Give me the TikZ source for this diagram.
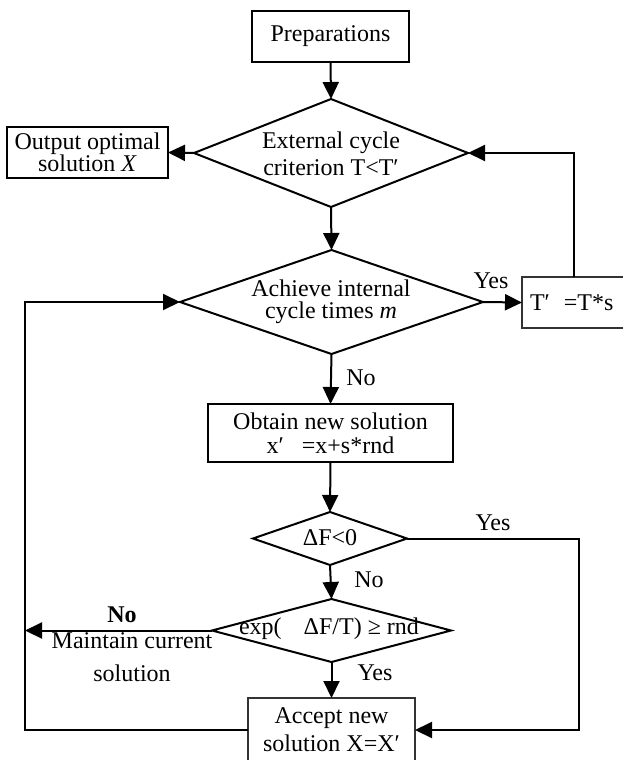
\documentclass[tikz,border=0pt]{standalone}
\usepackage{fontspec}
\setmainfont{Liberation Serif}
\usetikzlibrary{shapes.geometric,arrows.meta}
\begin{document}
\begin{tikzpicture}[x=1pt,y=-1pt,
  font=\fontsize{24}{22}\selectfont,
  line width=2pt,
  box/.style={draw, rectangle, inner sep=0pt, outer sep=0pt, align=center},
  thinbox/.style={draw=black!80, line width=1.3pt, rectangle, inner sep=0pt, outer sep=0pt},
  dia/.style={draw, diamond, inner sep=0pt, outer sep=0pt},
  arr/.style={-{Triangle[length=17pt,width=16pt]}},
  lbl/.style={inner sep=0pt, align=center}]
\path[use as bounding box, clip] (0,0) rectangle (623,760);
\fill[white] (0,0) rectangle (623,760);

\node[box, line width=2.2pt, minimum width=157pt, minimum height=51pt] (prep) at (330.5,36.5) {Preparations};
\node[dia, minimum width=274pt, minimum height=108pt] (d1) at (331,153) {};
\node[lbl] (d1t) at (331,154) {External cycle\\[5pt]criterion T<T′};
\node[box, line width=2.2pt, minimum width=161pt, minimum height=51pt] (out) at (87.5,152.5) {Output optimal\\solution \textit{X}};
\node[dia, minimum width=303pt, minimum height=104pt] (d2) at (331.5,302) {};
\node[lbl] (d2t) at (331,302) {Achieve internal\\cycle times \textit{m}};
\node[thinbox, anchor=west, inner xsep=8pt, text width=114pt, minimum height=51pt, align=left] (tp) at (522,302.5) {T′\hspace{14pt}=T*s};
\node[box, line width=1.8pt, minimum width=245pt, minimum height=58pt] (obt) at (330.5,433) {Obtain new solution\\[2pt]x′\ \ \ =x+s*rnd};
\node[dia, minimum width=154pt, minimum height=53pt] (df) at (330,538.5) {};
\node[lbl] (dft) at (330,538) {ΔF<0};
\node[dia, minimum width=239pt, minimum height=63pt] (ex) at (331.5,630.5) {};
\node[lbl] (ext) at (329,629) {exp(\hspace{22pt}ΔF/T) ≥ rnd};
\node[thinbox, anchor=north, minimum width=167pt, minimum height=64pt, align=center] (acc) at (331.5,698) {Accept new\\[6pt]solution X=X′};

\coordinate (rc) at (579,600);
\coordinate (lc) at (25,500);

\draw[arr] (prep.south) -- (d1.north);
\draw[arr] (d1.west) -- (out.east);
\draw[arr] (d1.south) -- (d2.north);
\draw[arr] (d2.east) -- (tp.west);
\draw[arr] (tp.north west) ++(52,0) |- (d1.east);
\draw[arr] (d2.south) -- (obt.north);
\draw[arr] (obt.south) -- (df.north);
\draw[arr] (df.south) -- (ex.north);
\draw[arr] (ex.south) -- (acc.north);
\draw[arr] (df.east) -| (rc) |- (acc.east);
\draw[arr] (acc.west) -| (lc) |- (d2.west);
\draw[arr] (ex.west) -- (ex.west -| lc);

\node[lbl] (y1) at (491,281) {Yes};
\node[lbl] (n1) at (361,378) {No};
\node[lbl] (y2) at (493,523) {Yes};
\node[lbl] (n2) at (369,580) {No};
\node[lbl, font=\fontsize{24}{22}\selectfont\bfseries] (n3) at (122,615) {No};
\node[lbl] (mc) at (132,657) {Maintain current\\[11pt]solution};
\node[lbl] (y3) at (375,673) {Yes};
\end{tikzpicture}
\end{document}
